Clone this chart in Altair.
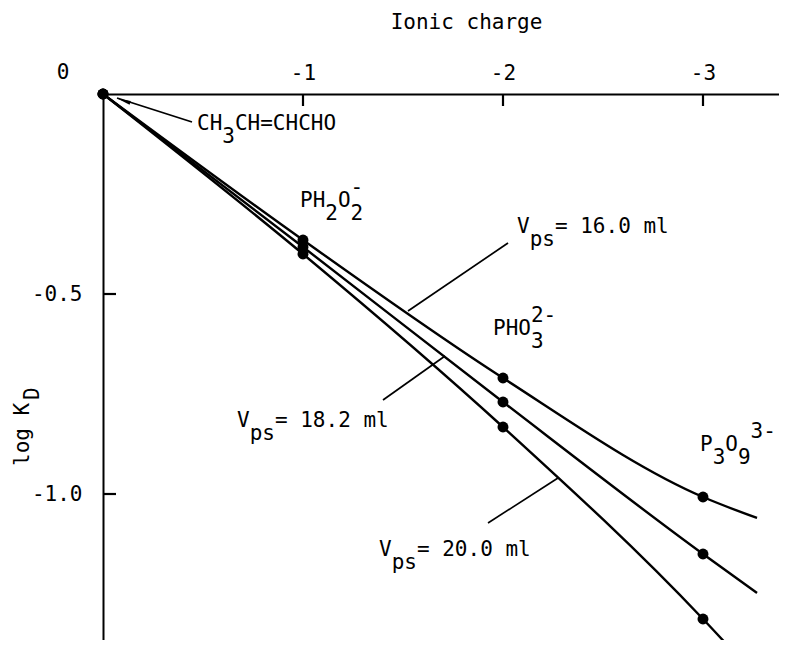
import altair as alt
import pandas as pd

# ---------------- data ----------------
charges = [0, -1, -2, -3]
series_names = ["Vps 16.0 ml", "Vps 18.2 ml", "Vps 20.0 ml"]
logk_16 = [0.0, -0.365, -0.71, -1.0075]
logk_18 = [0.0, -0.3825, -0.77, -1.15]
logk_20 = [0.0, -0.40, -0.8325, -1.3125]
tail_charge = [-3.27, -3.27, -3.20]
tail_logk = [-1.06, -1.2475, -1.42]

x_ticks = [-1, -2, -3]
y_ticks = [-0.5, -1.0]
x_domain = [0, -3.38]
y_domain = [-1.365, 0]

# annotations: anchor (charge, logK) and segments (text, kind, char index)
annotations = [
    (-0.47, -0.09, [("CH", "n", 0), ("3", "sub", 2), ("CH=CHCHO", "n", 3)]),
    (-0.985, -0.2825, [("PH", "n", 0), ("2", "sub", 2), ("O", "n", 3), ("2", "sub", 4), ("-", "sup", 4)]),
    (-1.95, -0.6025, [("PHO", "n", 0), ("3", "sub", 3), ("2-", "sup", 3)]),
    (-2.985, -0.8925, [("P", "n", 0), ("3", "sub", 1), ("O", "n", 2), ("9", "sub", 3), ("3-", "sup", 4)]),
    (-2.07, -0.3475, [("V", "n", 0), ("ps", "sub", 1), ("= 16.0 ml", "n", 3)]),
    (-0.67, -0.8325, [("V", "n", 0), ("ps", "sub", 1), ("= 18.2 ml", "n", 3)]),
    (-1.38, -1.155, [("V", "n", 0), ("ps", "sub", 1), ("= 20.0 ml", "n", 3)]),
]
leader_x = [-0.07, -1.525, -1.40, -1.925]
leader_y = [-0.01, -0.5425, -0.765, -1.0725]
leader_x2 = [-0.445, -2.025, -1.71, -2.275]
leader_y2 = [-0.07, -0.3725, -0.655, -0.96]

# ---------------- layout ----------------
W, H = 676, 546
FONT = "DejaVu Sans Mono"
FS = 21
ADV = FS * 0.602
px_per_x = W / abs(x_domain[1] - x_domain[0])
px_per_y = H / abs(y_domain[1] - y_domain[0])

series_vals = [logk_16, logk_18, logk_20]
pts = []
for name, vals in zip(series_names, series_vals):
    for c, v in zip(charges, vals):
        pts.append({"series": name, "charge": c, "logk": v})
points_df = pd.DataFrame(pts)
line_rows = list(pts)
for name, tc, tl in zip(series_names, tail_charge, tail_logk):
    line_rows.append({"series": name, "charge": tc, "logk": tl})
lines_df = pd.DataFrame(line_rows)

seg_rows = []
for ax_, ay_, segs in annotations:
    for text, kind, idx in segs:
        dy = {"n": 0, "sub": 13, "sup": -13}[kind]
        seg_rows.append({
            "charge": ax_ - idx * ADV / px_per_x,
            "logk": ay_ - dy / px_per_y,
            "label": text,
        })
seg_df = pd.DataFrame(seg_rows)

leaders_df = pd.DataFrame({"charge": leader_x, "logk": leader_y,
                           "charge2": leader_x2, "logk2": leader_y2})

# inward tick marks (short segments, lengths converted from pixels)
tick_len_x = 12 / px_per_y
tick_len_y = 13 / px_per_x
xt_df = pd.DataFrame({"charge": x_ticks, "logk": [0.0] * len(x_ticks),
                      "charge2": x_ticks, "logk2": [-tick_len_x] * len(x_ticks)})
yt_df = pd.DataFrame({"charge": [0.0] * len(y_ticks), "logk": y_ticks,
                      "charge2": [-tick_len_y] * len(y_ticks), "logk2": y_ticks})

xscale = alt.Scale(domain=x_domain, nice=False, zero=False)
yscale = alt.Scale(domain=y_domain, nice=False, zero=False)

x_axis = alt.Axis(
    orient="top", values=x_ticks, title="Ionic charge", grid=False,
    ticks=False, labelExpr="'' + datum.value",
    labelFont=FONT, labelFontSize=FS, labelColor="black", labelPadding=15,
    labelBaseline="alphabetic",
    domainColor="black", domainWidth=2,
    titleFont=FONT, titleFontSize=FS, titleFontWeight="normal", titleColor="black",
    titleX=363, titleY=-72, titleAlign="center", titleBaseline="middle",
)
y_axis = alt.Axis(
    orient="left", values=y_ticks, title=None, grid=False,
    ticks=False, labelExpr="'-' + format(-datum.value, '.1f')",
    labelFont=FONT, labelFontSize=FS, labelColor="black", labelPadding=21,
    domainColor="black", domainWidth=2,
)

X = alt.X("charge:Q", scale=xscale, axis=x_axis)
Y = alt.Y("logk:Q", scale=yscale, axis=y_axis)

lines = alt.Chart(lines_df).mark_line(
    color="black", strokeWidth=2.4, interpolate="monotone", clip=True
).encode(x=X, y=Y, detail="series:N", order=alt.Order("charge:Q", sort="descending"))

dots = alt.Chart(points_df).mark_circle(color="black", opacity=1, size=120).encode(x=X, y=Y)

xt = alt.Chart(xt_df).mark_rule(color="black", strokeWidth=2.2).encode(
    x=X, y=Y, x2="charge2:Q", y2="logk2:Q")
yt = alt.Chart(yt_df).mark_rule(color="black", strokeWidth=2.2).encode(
    x=X, y=Y, x2="charge2:Q", y2="logk2:Q")

leaders = alt.Chart(leaders_df).mark_rule(color="black", strokeWidth=1.7).encode(
    x=X, y=Y, x2="charge2:Q", y2="logk2:Q")

arrow = alt.Chart(pd.DataFrame({"charge": [-0.105], "logk": [-0.017]})).mark_point(
    shape="M0,-1L0.3,1L-0.3,1Z", filled=True, color="black", opacity=1, size=170, angle=288
).encode(x=X, y=Y)

labels = alt.Chart(seg_df).mark_text(
    font=FONT, fontSize=FS, color="black", align="left", baseline="alphabetic"
).encode(x=X, y=Y, text="label:N")

zero_lbl = alt.Chart(pd.DataFrame({"t": ["0"]})).mark_text(
    font=FONT, fontSize=FS, color="black", align="center", baseline="alphabetic"
).encode(x=alt.value(-40), y=alt.value(-15), text="t:N")

ytitle1 = alt.Chart(pd.DataFrame({"t": ["log K"]})).mark_text(
    font=FONT, fontSize=FS, color="black", align="left", baseline="alphabetic", angle=270
).encode(x=alt.value(-74), y=alt.value(372), text="t:N")
ytitle2 = alt.Chart(pd.DataFrame({"t": ["D"]})).mark_text(
    font=FONT, fontSize=FS, color="black", align="left", baseline="alphabetic", angle=270
).encode(x=alt.value(-64), y=alt.value(306), text="t:N")

chart = alt.layer(
    lines, dots, xt, yt, leaders, arrow, labels, zero_lbl, ytitle1, ytitle2
).properties(
    width=W, height=H, autosize="none",
    padding={"left": 95, "top": 86, "right": 0, "bottom": 0},
    background="white",
).configure_view(stroke=None)

chart.save("out.html", embed_options={"renderer": "svg", "actions": False})
